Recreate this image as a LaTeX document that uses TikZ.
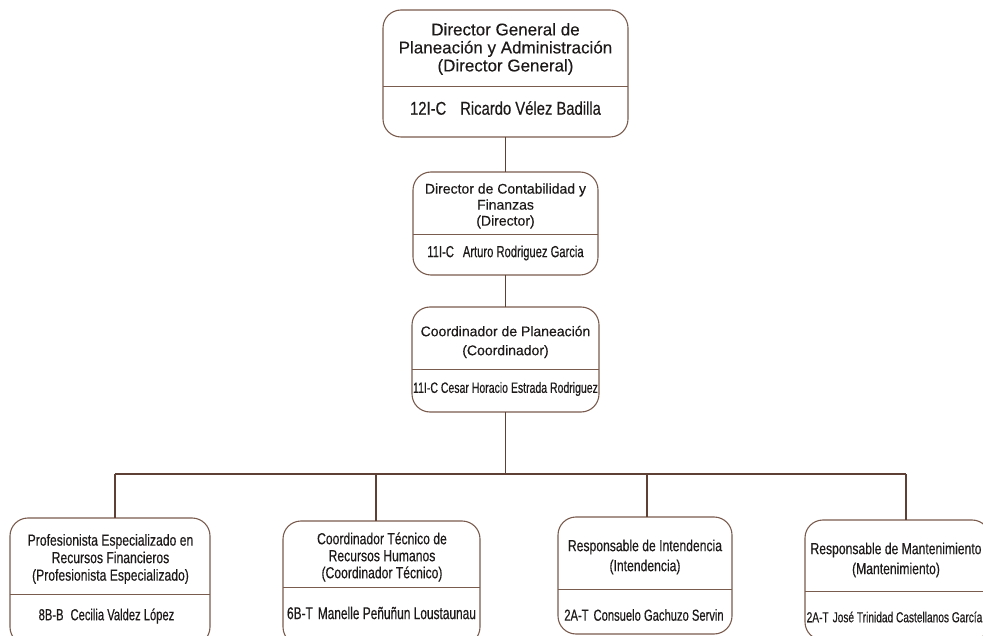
\documentclass[tikz,border=0pt]{standalone}
\usepackage{fontspec}
\setmainfont[FakeBold=0.35]{Liberation Sans}
\newfontfamily\fTit[FakeStretch=0.76,FakeBold=0.35]{Liberation Sans}
\newfontfamily\fTop[FakeStretch=0.8,FakeBold=0.35]{Liberation Sans}
\newfontfamily\fNam[FakeStretch=0.7,FakeBold=0.35]{Liberation Sans}
\definecolor{linec}{HTML}{5E4035}
\definecolor{boxc}{HTML}{7A5C4E}
\definecolor{txtc}{HTML}{1E1A1A}
\begin{document}
\begin{tikzpicture}[x=1pt,y=-1pt,
  orgbox/.style={draw=boxc, line width=1.1pt, rounded corners=18pt, inner sep=0pt, outer sep=0pt},
  divline/.style={draw=boxc, line width=1pt},
  conn/.style={draw=linec, line width=1.1pt},
  txt/.style={text=txtc, align=center, inner sep=0pt}]
\useasboundingbox (0,0) rectangle (983,636);
\clip (0,0) rectangle (983,636);
\fill[white] (0,0) rectangle (983,636);

% boxes
\node[orgbox, minimum width=245pt, minimum height=127pt] (b1) at (505.5,73.5) {};
\node[orgbox, minimum width=185pt, minimum height=103pt] (b2) at (505.5,223.5) {};
\node[orgbox, minimum width=187pt, minimum height=105pt] (b3) at (505.5,359.5) {};
\node[orgbox, minimum width=200pt, minimum height=127pt] (b4) at (110,581.5) {};
\node[orgbox, minimum width=197pt, minimum height=124pt] (b5) at (381.5,583) {};
\node[orgbox, minimum width=174pt, minimum height=117pt] (b6) at (645,575.5) {};
\node[orgbox, minimum width=185pt, minimum height=120pt] (b7) at (897.5,580) {};

% dividers
\draw[divline] (b1.west |- 0,87) -- (b1.east |- 0,87);
\draw[divline] (b2.west |- 0,235) -- (b2.east |- 0,235);
\draw[divline] (b3.west |- 0,370) -- (b3.east |- 0,370);
\draw[divline] (b4.west |- 0,594) -- (b4.east |- 0,594);
\draw[divline] (b5.west |- 0,587) -- (b5.east |- 0,587);
\draw[divline] (b6.west |- 0,589) -- (b6.east |- 0,589);
\draw[divline] (b7.west |- 0,591) -- (b7.east |- 0,591);

% texts
\node[txt, font={\fontsize{17}{18}\selectfont}] (t1) at (505.5,49) {Director General de\\Planeación y Administración\\(Director General)};
\node[txt, font={\fTop\fontsize{18.5}{20}\selectfont}] (n1) at (505.5,108) {12I-C\hspace{14pt}Ricardo Vélez Badilla};

\node[txt, font={\fontsize{14}{16}\selectfont}] (t2) at (505.5,206) {Director de Contabilidad y\\Finanzas\\(Director)};
\node[txt, font={\fNam\fontsize{16}{18}\selectfont}] (n2) at (505.5,253) {11I-C\hspace{9pt}Arturo Rodriguez Garcia};

\node[txt, font={\fontsize{14}{19}\selectfont}] (t3) at (505.5,342) {Coordinador de Planeación\\(Coordinador)};
\node[txt, font={\fNam\fontsize{15}{17}\selectfont}] (n3) at (505.5,389) {11I-C Cesar Horacio Estrada Rodriguez};

\node[txt, font={\fTit\fontsize{16}{17.5}\selectfont}] (t4) at (110.5,559) {Profesionista Especializado en\\Recursos Financieros\\(Profesionista Especializado)};
\node[txt, font={\fNam\fontsize{16}{18}\selectfont}] (n4) at (106.5,616) {8B-B\hspace{7pt}Cecilia Valdez López};

\node[txt, font={\fTit\fontsize{16}{17}\selectfont}] (t5) at (382,557) {Coordinador Técnico de\\Recursos Humanos\\(Coordinador Técnico)};
\node[txt, font={\fNam\fontsize{17}{19}\selectfont}] (n5) at (381.5,613) {6B-T\hspace{5pt}Manelle Peñuñun Loustaunau};

\node[txt, font={\fTit\fontsize{16}{20}\selectfont}] (t6) at (645,557) {Responsable de Intendencia\\(Intendencia)};
\node[txt, font={\fNam\fontsize{16}{18}\selectfont}] (n6) at (644,615) {2A-T\hspace{5pt}Consuelo Gachuzo Servin};

\node[txt, font={\fTit\fontsize{16}{20}\selectfont}] (t7) at (896,560) {Responsable de Mantenimiento\\(Mantenimiento)};
\node[txt, font={\fNam\fontsize{14.5}{17}\selectfont}] (n7) at (894.5,617) {2A-T\hspace{4pt}José Trinidad Castellanos García};

% connectors
\coordinate (busL) at (115,474);
\coordinate (busR) at (906,474);
\coordinate (d5) at (376,474);
\coordinate (d6) at (647,474);
\draw[conn] (b1.south) -- (b2.north);
\draw[conn] (b2.south) -- (b3.north);
\draw[conn] (b3.south) -- (b3.south |- busL);
\draw[conn] (busL) -- (busR);
\draw[conn] (busL) -- (busL |- b4.north);
\draw[conn] (d5) -- (d5 |- b5.north);
\draw[conn] (d6) -- (d6 |- b6.north);
\draw[conn] (busR) -- (busR |- b7.north);
\end{tikzpicture}
\end{document}
